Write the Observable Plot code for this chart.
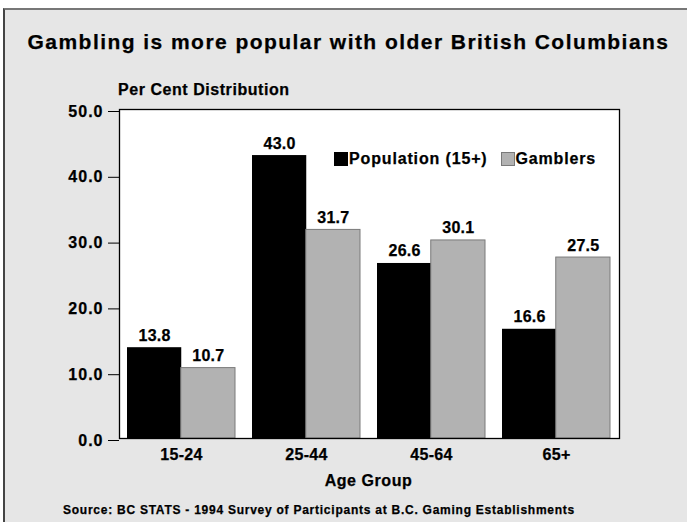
<!DOCTYPE html>
<html>
<head>
<meta charset="utf-8">
<script src="https://cdn.jsdelivr.net/npm/d3@7"></script>
<script src="https://cdn.jsdelivr.net/npm/@observablehq/plot@0.6"></script>
<style>
  html, body { margin: 0; padding: 0; background: #ffffff; }
  #page { position: relative; width: 687px; height: 522px; overflow: hidden;
          font-family: "Liberation Sans", Arial, sans-serif; font-weight: bold; color: #000; }
  #panel { position: absolute; left: 3px; top: 8px; width: 700px; height: 530px;
           background: #e6e6e6; border-top: 2px solid #777; border-left: 2px solid #444; }
  .txt { position: absolute; white-space: nowrap; line-height: 1; -webkit-text-stroke: 0.25px #000; }
  #title { left: 0; width: 697px; text-align: center; top: 31px; font-size: 21px; letter-spacing: 1.45px; }
  #ylabel { left: 118px; top: 81.5px; font-size: 16px; letter-spacing: 0.55px; }
  #xlabel { left: 0; width: 737px; text-align: center; top: 472.5px; font-size: 16px; letter-spacing: 0.55px; }
  #source { left: 63px; top: 504px; font-size: 12px; letter-spacing: 0.75px; }
  #chart { position: absolute; left: 0; top: 0; }
  #chart svg text { stroke: #000; stroke-width: 0.25px; }
  #chart svg g[aria-label="y-axis tick label"] text { letter-spacing: 1px; }
  #chart svg g[aria-label="x-axis tick label"] text { letter-spacing: 0.3px; }
  #chart svg g[aria-label="text"] text { letter-spacing: 0.3px; }
  #legend { position: absolute; left: 334px; top: 151px; display: flex; align-items: center;
            font-size: 16px; letter-spacing: 0.85px; line-height: 1; -webkit-text-stroke: 0.25px #000; }
  #legend .sw { width: 14px; height: 14px; box-sizing: border-box; margin-right: 1px; }
  #legend .item { display: flex; align-items: center; margin-right: 13px; }
</style>
</head>
<body>
<div id="page">
  <div id="panel"></div>
  <div id="chart"></div>
  <div class="txt" id="title">Gambling is more popular with older British Columbians</div>
  <div class="txt" id="ylabel">Per Cent Distribution</div>
  <div class="txt" id="xlabel">Age Group</div>
  <div class="txt" id="source">Source: BC STATS - 1994 Survey of Participants at B.C. Gaming Establishments</div>
  <div id="legend"></div>
</div>
<script>
// Age groups and the two distributions (per cent)
const ageGroups = ["15-24", "25-44", "45-64", "65+"];
const seriesNames = ["Population (15+)", "Gamblers"];
const population = [13.8, 43.0, 26.6, 16.6];
const gamblers = [10.7, 31.7, 30.1, 27.5];
const yTicks = [0, 10, 20, 30, 40, 50];

const seriesFill = {"Population (15+)": "#000000", "Gamblers": "#b2b2b2"};
const seriesStroke = {"Population (15+)": "#000000", "Gamblers": "#7a7a7a"};

const popRows = ageGroups.map((age, i) => ({age, value: population[i]}));
const gamRows = ageGroups.map((age, i) => ({age, value: gamblers[i]}));

const width = 687, height = 522;
const margin = {top: 109, right: 68, bottom: 84, left: 119};
const band = {paddingInner: 0.14, paddingOuter: 0.07, align: 0.44};

// Width of one age-group band; each series takes half of it
const bw = d3.scaleBand()
  .domain(ageGroups)
  .range([margin.left, width - margin.right])
  .paddingInner(band.paddingInner)
  .paddingOuter(band.paddingOuter)
  .align(band.align)
  .bandwidth();
const half = bw / 2;

const fmt = d3.format(".1f");

const chart = Plot.plot({
  width, height,
  marginTop: margin.top, marginRight: margin.right,
  marginBottom: margin.bottom, marginLeft: margin.left,
  style: {background: "transparent", fontFamily: "'Liberation Sans', Arial, sans-serif", color: "#000"},
  x: {domain: ageGroups, ...band, label: null},
  y: {domain: [0, 50], label: null},
  marks: [
    Plot.frame({fill: "white", stroke: null}),
    Plot.barY(popRows, {x: "age", y: "value", fill: seriesFill[seriesNames[0]], insetRight: half}),
    Plot.barY(gamRows, {x: "age", y: "value", fill: seriesFill[seriesNames[1]],
      stroke: seriesStroke[seriesNames[1]], strokeWidth: 1, insetLeft: half}),
    Plot.text(popRows, {x: "age", y: "value", text: d => fmt(d.value), dx: -half / 2, dy: -7,
      lineAnchor: "bottom", fontSize: 16, fontWeight: "bold", fill: "#000"}),
    Plot.text(gamRows, {x: "age", y: "value", text: d => fmt(d.value), dx: half / 2, dy: -7,
      lineAnchor: "bottom", fontSize: 16, fontWeight: "bold", fill: "#000"}),
    Plot.frame({stroke: "#000", strokeWidth: 1.3}),
    Plot.axisY(yTicks, {tickSize: 11, tickPadding: 5, tickFormat: fmt, fontSize: 16,
      fontWeight: "bold", stroke: "#000", dy: 2, label: null}),
    Plot.axisX({tickSize: 0, tickPadding: 10, fontSize: 16, fontWeight: "bold", label: null})
  ]
});
document.getElementById("chart").appendChild(chart);

// Legend drawn in the upper right of the plot area
const legend = d3.select("#legend");
seriesNames.forEach(name => {
  const item = legend.append("div").attr("class", "item");
  item.append("div").attr("class", "sw")
    .style("background", seriesFill[name])
    .style("border", `1px solid ${seriesStroke[name]}`);
  item.append("span").text(name);
});
</script>
</body>
</html>
